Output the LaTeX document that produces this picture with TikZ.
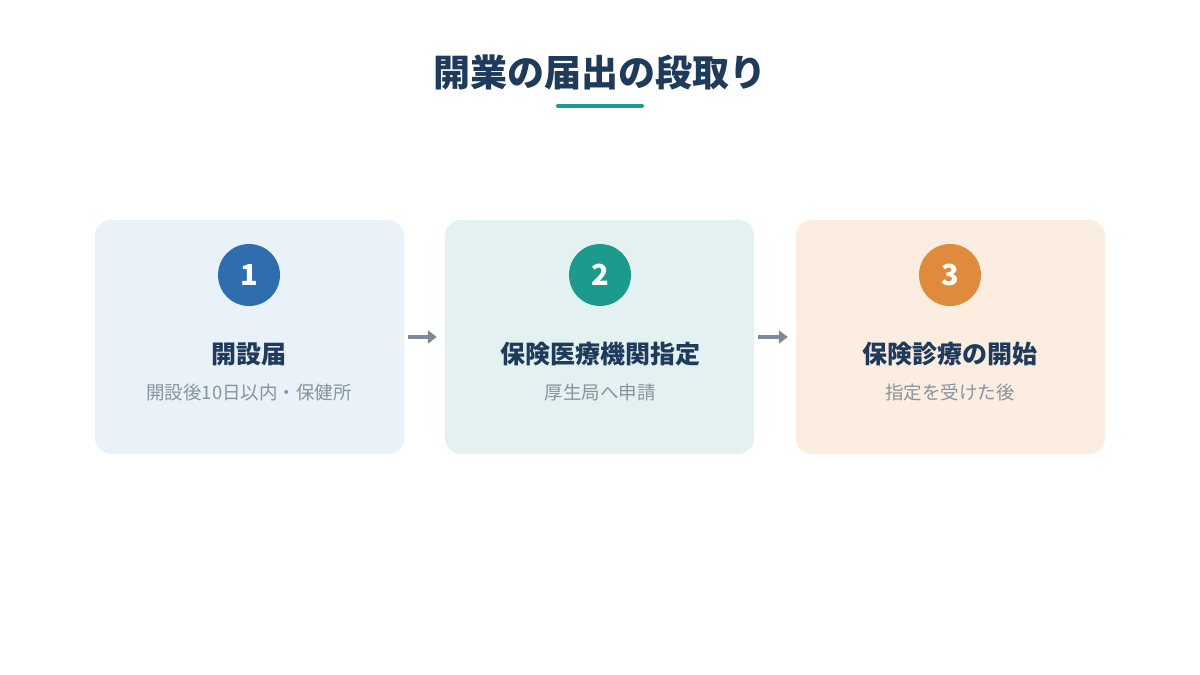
\documentclass[tikz,border=0pt]{standalone}
\usepackage{fontspec}
\setmainfont{Noto Sans CJK JP}
\usetikzlibrary{arrows.meta}
\definecolor{navy}{HTML}{1E3A5C}
\definecolor{teal}{HTML}{1C9A8B}
\definecolor{cardA}{HTML}{E9F1F9}
\definecolor{cardB}{HTML}{E3F2F0}
\definecolor{cardC}{HTML}{FBEDDF}
\definecolor{circA}{HTML}{2F6EAE}
\definecolor{circB}{HTML}{1C9A8B}
\definecolor{circC}{HTML}{E08A3C}
\definecolor{subgray}{HTML}{8893A0}
\definecolor{arrgray}{HTML}{7E8898}
\begin{document}
\begin{tikzpicture}[x=1pt,y=-1pt,
  card/.style={rounded corners=16pt, minimum width=309pt, minimum height=234pt, inner sep=0pt},
  numcirc/.style={circle, minimum size=62pt, inner sep=0pt, text=white, font=\fontsize{29}{34}\selectfont\bfseries},
  steptitle/.style={text=navy, font=\fontsize{25}{30}\selectfont\bfseries},
  stepsub/.style={text=subgray, font=\fontsize{18.5}{22}\selectfont},
  flow/.style={draw=arrgray, line width=4pt, -{Triangle[length=9pt,width=13pt]}}]
\useasboundingbox (0,0) rectangle (1200,675);
\fill[white] (0,0) rectangle (1200,675);
\node[text=navy, font=\fontsize{37}{44}\selectfont\bfseries] (title) at (600,72) {開業の届出の段取り};
\draw[teal, line width=4pt, line cap=round] (558,106) -- (642,106);
% cards
\node[card, fill=cardA] (c1) at (249.5,337) {};
\node[card, fill=cardB] (c2) at (599.5,337) {};
\node[card, fill=cardC] (c3) at (950.5,337) {};
\node[numcirc, fill=circA] (n1) at (249,275) {1};
\node[numcirc, fill=circB] (n2) at (600,275) {2};
\node[numcirc, fill=circC] (n3) at (950,275) {3};
\node[steptitle] (t1) at (249,354) {開設届};
\node[steptitle] (t2) at (600,354) {保険医療機関指定};
\node[steptitle] (t3) at (950,354) {保険診療の開始};
\node[stepsub] (s1) at (249,392) {開設後10日以内・保健所};
\node[stepsub] (s2) at (600,392) {厚生局へ申請};
\node[stepsub] (s3) at (950,392) {指定を受けた後};
\draw[flow] ([xshift=4pt]c1.east) -- ([xshift=-8pt]c2.west);
\draw[flow] ([xshift=4pt]c2.east) -- ([xshift=-8pt]c3.west);
\end{tikzpicture}
\end{document}
